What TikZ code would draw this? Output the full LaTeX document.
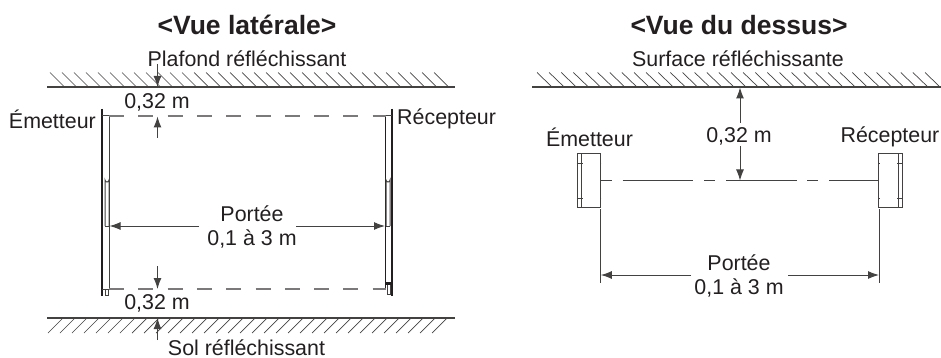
\documentclass[tikz,border=0pt]{standalone}
\usepackage{fontspec}
\setmainfont{Liberation Sans}
\usetikzlibrary{arrows.meta}
\definecolor{ink}{HTML}{231F20}
\tikzset{
  lbl/.style={inner sep=0pt, text=ink, font=\fontsize{21.4}{24}\selectfont},
  ttl/.style={inner sep=0pt, text=ink, font=\fontsize{26.5}{30}\selectfont\bfseries},
  wall/.style={draw=ink!85, line width=1.1pt},
  hatch/.style={draw=ink!85, line width=.7pt},
  thin/.style={draw=ink!85, line width=1pt},
  edge/.style={draw=ink, line width=1.1pt},
  thick/.style={draw=ink, line width=1.7pt},
  dim/.style={draw=ink!85, line width=1pt, -{Latex[length=11pt,width=8pt]}},
  beam/.style={draw=ink!60, line width=1.2pt, dash pattern=on 15pt off 14.3pt},
  beamb/.style={draw=ink!85, line width=1pt}
}
\begin{document}
\begin{tikzpicture}[x=1pt, y=-1pt]
\useasboundingbox (0,0) rectangle (941,358);
% titles
\node[ttl] (ttlside) at (247,25){<Vue latérale>};
\node[ttl] (ttltop) at (739,25){<Vue du dessus>};
% side view, walls
\coordinate (ceilL) at (47,87);
\coordinate (ceilR) at (455,87);
\coordinate (floorL) at (47,318);
\coordinate (floorR) at (455,318);
\draw[wall](ceilL) -- (ceilR);
\draw[wall](floorL) -- (floorR);
\foreach \x in {50,62,...,434}{\draw[hatch](\x,72.5) -- (\x+14.5,87);}
\foreach \x in {48,60,...,432}{\draw[hatch](\x,333) -- (\x+15,318);}
\node[lbl] (ceillbl) at (247,59){Plafond réfléchissant};
\node[lbl] (floorlbl) at (246.5,347.5){Sol réfléchissant};
% side view, emitter
\coordinate (emA) at (102,109);
\coordinate (emB) at (102,128);
\coordinate (emC) at (102,276);
\coordinate (emD) at (102,296);
\coordinate (emE) at (109,116);
\coordinate (emF) at (109,289);
\draw[edge](emA) -- (emD);
\draw[thick](emA) -- (emB);
\draw[thick](emC) -- (emD);
\draw[thin](emE) -- (emF);
\draw[thin](102,116) -- (emE);
\draw[thin](105,226) -- (105,180) arc (180:0:2) -- (109,226);
\draw[thin](105,226) -- (109,226);
\draw[thin](102,289) -- (109,289);
\draw[thin](105,289) -- (105,295) -- (108,295) -- (108,289);
% side view, receiver
\coordinate (reA) at (392,109);
\coordinate (reB) at (392,128);
\coordinate (reC) at (392,276);
\coordinate (reD) at (392,296);
\coordinate (reE) at (385.5,116);
\coordinate (reF) at (385.5,289);
\draw[edge](reA) -- (reD);
\draw[thick](reA) -- (reB);
\draw[thick](reC) -- (reD);
\draw[edge](reE) -- (reF);
\draw[thin](reE) -- (392,116);
\draw[thin](386,226) -- (386,180) arc (180:0:2) -- (390,226);
\draw[thin](386,226) -- (390,226);
\draw[line width=3pt, draw=ink](385.5,283.5) -- (392,283.5);
\draw[thin](387,285) -- (387,294) -- (390.5,294) -- (390.5,285);
% side view, beams
\draw[beam](emE) -- (reE);
\draw[beam](emF) -- (reF);
\node[lbl, anchor=east] (emlbl) at (96,119){Émetteur};
\node[lbl, anchor=west] (relbl) at (397,119){Récepteur};
% side view, clearances
\node[lbl] (upgap) at (157,102){0,32 m};
\node[lbl] (lowgap) at (157,303){0,32 m};
\coordinate (upa) at (157.5,64);
\coordinate (upb) at (157.5,87);
\coordinate (upc) at (157.5,138);
\coordinate (upd) at (157.5,116.5);
\coordinate (lowa) at (157.5,266);
\coordinate (lowb) at (157.5,289);
\coordinate (lowc) at (157.5,340);
\coordinate (lowd) at (157.5,318);
\draw[dim](upa) -- (upb);
\draw[dim](upc) -- (upd);
\draw[dim](lowa) -- (lowb);
\draw[dim](lowc) -- (lowd);
% side view, range
\node[lbl] (sidea) at (252,214){Portée};
\node[lbl] (sideb) at (252,239){0,1 à 3 m};
\coordinate (sideL) at (199,226);
\coordinate (sideR) at (296,226);
\coordinate (sideLt) at (109.5,226);
\coordinate (sideRt) at (385,226);
\draw[dim](sideL) -- (sideLt);
\draw[dim](sideR) -- (sideRt);
% top view, wall
\coordinate (surfL) at (532,87);
\coordinate (surfR) at (941,87);
\draw[wall](surfL) -- (surfR);
\foreach \k in {0,...,32}{\draw[hatch](537+\k*12.125,72.5) -- (552+\k*12.125,87);}
\node[lbl] (surflbl) at (738,59){Surface réfléchissante};
% top view, boxes
\node[draw=ink!85, line width=1pt, minimum width=23.5pt, minimum height=53pt, inner sep=0pt] (embox) at (589,180.5){};
\node[draw=ink!85, line width=1pt, minimum width=23.5pt, minimum height=53pt, inner sep=0pt] (rebox) at (890.5,180.5){};
\draw[thin]([xshift=4.5pt]embox.north west) -- ([xshift=4.5pt]embox.south west);
\draw[thin]([xshift=-4.5pt]rebox.north east) -- ([xshift=-4.5pt]rebox.south east);
\foreach \y in {163,198}{
  \draw[hatch](embox.west |- 0,\y) -- ++(6,0);
  \draw[hatch](embox.east |- 0,\y) -- ++(-1.5,0);
  \draw[hatch](rebox.west |- 0,\y) -- ++(1.5,0);
  \draw[hatch](rebox.east |- 0,\y) -- ++(-6,0);
}
\node[lbl] (emtop) at (589.5,137){Émetteur};
\node[lbl] (retop) at (890,137){Récepteur};
% top view, axis
\coordinate (axa) at (612,180.5);
\coordinate (axb) at (622.5,180.5);
\coordinate (axc) at (693,180.5);
\coordinate (axd) at (704,180.5);
\coordinate (axe) at (715,180.5);
\coordinate (axf) at (726,180.5);
\coordinate (axg) at (797,180.5);
\coordinate (axh) at (807,180.5);
\coordinate (axi) at (818,180.5);
\coordinate (axj) at (829,180.5);
\draw[beamb](embox.east |- axa) -- (axa);
\draw[beamb](axb) -- (axc);
\draw[beamb](axd) -- (axe);
\draw[beamb](axf) -- (axg);
\draw[beamb](axh) -- (axi);
\draw[beamb](axj) -- (rebox.west |- axj);
% top view, clearance
\node[lbl] (topgap) at (739,136){0,32 m};
\coordinate (gapa) at (740,123);
\coordinate (gapb) at (740,87.5);
\coordinate (gapc) at (740,146);
\coordinate (gapd) at (740,180.5);
\draw[dim](gapa) -- (gapb);
\draw[dim](gapc) -- (gapd);
% top view, range
\coordinate (exa) at (600.8,209);
\coordinate (exb) at (600.8,283);
\coordinate (exc) at (879,209);
\coordinate (exd) at (879,283);
\draw[thin](exa) -- (exb);
\draw[thin](exc) -- (exd);
\node[lbl] (topa) at (739,263){Portée};
\node[lbl] (topb) at (739,288){0,1 à 3 m};
\coordinate (rngL) at (691,275);
\coordinate (rngR) at (788,275);
\draw[dim](rngL) -- (exa |- rngL);
\draw[dim](rngR) -- (exc |- rngR);
\end{tikzpicture}
\end{document}
